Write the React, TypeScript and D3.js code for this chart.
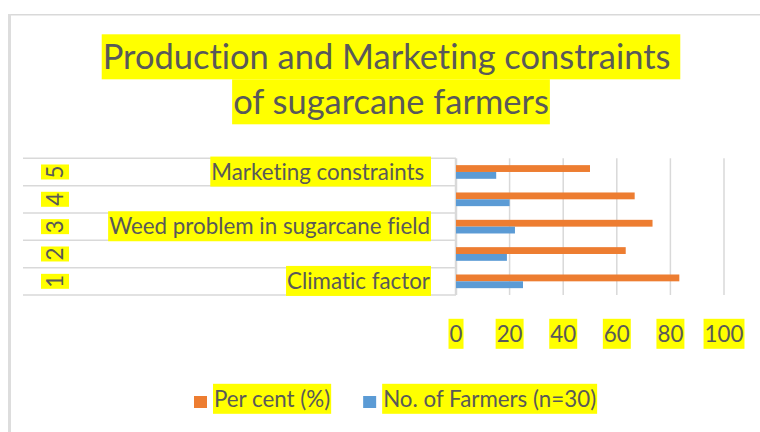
import { useEffect, useRef } from "react";
import * as d3 from "d3";

// chart data
const titleLines = ["Production and Marketing constraints ", "of sugarcane farmers"];
const categories = ["1", "2", "3", "4", "5"];
const categoryNames = ["Climatic factor", "", "Weed problem in sugarcane field", "", "Marketing constraints "];
const seriesNames = ["Per cent (%)", "No. of Farmers (n=30)"];
const perCent = [83.33, 63.33, 73.33, 66.67, 50];
const farmers = [25, 19, 22, 20, 15];
const xTicks = [0, 20, 40, 60, 80, 100];
const seriesColors = ["#ED7D31", "#5B9BD5"];

const W = 760;
const H = 432;
const FONT = "Lato, 'Open Sans', sans-serif";
const TEXT = "#595959";
const GRID = "#D9D9D9";
const HILITE = "#FFFF00";

export default function App() {
  const svgRef = useRef<SVGSVGElement>(null);

  useEffect(() => {
    const draw = () => {
      const svg = d3.select(svgRef.current);
      svg.selectAll("*").remove();
      svg.attr("font-family", FONT).style("font-variant-ligatures", "none");

      // fit the fallback font to the widths of the original (Calibri) text
      const probe = svg.append("text").attr("font-size", 24).text("Weed problem in sugarcane field");
      const labelSize = (24 * 321) / (probe.node() as SVGTextElement).getComputedTextLength();
      probe.attr("font-size", 37).text("Production and Marketing constraints");
      const titleSize = (37 * 568) / (probe.node() as SVGTextElement).getComputedTextLength();
      probe.remove();

      // highlighted text: yellow box behind, box height tied to baseline
      const hiText = (
        parent: d3.Selection<any, unknown, null, undefined>,
        str: string,
        x: number,
        y: number,
        size: number,
        anchor: string,
        top: number,
        bottom: number,
      ) => {
        const g = parent.append("g");
        const rect = g.append("rect").attr("fill", HILITE);
        const t = g
          .append("text")
          .attr("x", x)
          .attr("y", y)
          .attr("font-size", size)
          .attr("text-anchor", anchor)
          .attr("fill", TEXT)
          .attr("xml:space", "preserve")
          .style("white-space", "pre")
          .text(str);
        const b = (t.node() as SVGTextElement).getBBox();
        rect
          .attr("x", b.x - 1)
          .attr("width", b.width + 2)
          .attr("y", y - top)
          .attr("height", top + bottom);
        return b;
      };

      // chart frame
      svg.append("line").attr("x1", 8).attr("x2", W).attr("y1", 14.75).attr("y2", 14.75)
        .attr("stroke", GRID).attr("stroke-width", 1.5);
      svg.append("line").attr("x1", 9.5).attr("x2", 9.5).attr("y1", 14).attr("y2", H)
        .attr("stroke", "#DDDDDD").attr("stroke-width", 3);

      // title
      titleLines.forEach((line, i) => {
        hiText(svg, line, 391, 69.3 + i * 45, titleSize, "middle", 35, 10);
      });

      // scales
      const x = d3.scaleLinear().domain([0, 100]).range([456, 724]);
      const y = d3
        .scaleBand<string>()
        .domain([...categories].reverse())
        .range([158.3, 295]);
      const bw = y.bandwidth();
      const ySeries = d3.scaleBand<string>().domain(seriesNames).range([0, bw]).paddingOuter(1);

      // gridlines
      svg
        .append("g")
        .selectAll("line")
        .data(xTicks)
        .join("line")
        .attr("x1", (d) => x(d))
        .attr("x2", (d) => x(d))
        .attr("y1", 158.3)
        .attr("y2", 295)
        .attr("stroke", GRID)
        .attr("stroke-width", (d) => (d === 0 ? 2.5 : 1.5));

      // category table rows on the left
      const bounds = [...categories.map((c) => y(c)!), 295];
      svg
        .append("g")
        .selectAll("line")
        .data(bounds)
        .join("line")
        .attr("x1", 23)
        .attr("x2", x(0))
        .attr("y1", (d) => d)
        .attr("y2", (d) => d)
        .attr("stroke", GRID)
        .attr("stroke-width", 1.5);

      // bars
      const values = [perCent, farmers];
      seriesNames.forEach((s, si) => {
        svg
          .append("g")
          .selectAll("rect")
          .data(categories)
          .join("rect")
          .attr("x", x(0))
          .attr("y", (c) => y(c)! + ySeries(s)!)
          .attr("width", (c, i) => x(values[si][i]) - x(0))
          .attr("height", ySeries.bandwidth())
          .attr("fill", seriesColors[si]);
      });

      // rotated category numbers and names
      categories.forEach((c, i) => {
        const cy = y(c)! + bw / 2;
        const g = svg.append("g").attr("transform", `translate(63,${cy}) rotate(-90)`);
        hiText(g, c, 0, 0, labelSize, "middle", 22, 6);
        if (categoryNames[i]) {
          hiText(svg, categoryNames[i], 430, cy + 7.6, labelSize, "end", 23, 7);
        }
      });

      // x tick labels
      xTicks.forEach((v) => {
        hiText(svg, String(v), x(v), 341.8, labelSize, "middle", 23, 7);
      });

      // legend
      let lx = 194;
      seriesNames.forEach((s, si) => {
        svg.append("rect").attr("x", lx).attr("y", 396).attr("width", 13).attr("height", 12)
          .attr("fill", seriesColors[si]);
        const b = hiText(svg, s, lx + 20, 406.8, labelSize, "start", 23, 7);
        lx = b.x + b.width + 33;
      });
    };

    draw();
    document.fonts?.ready.then(draw);
  }, []);

  return (
    <svg
      ref={svgRef}
      width={W}
      height={H}
      style={{ position: "absolute", left: 0, top: 0, background: "#fff" }}
    />
  );
}
